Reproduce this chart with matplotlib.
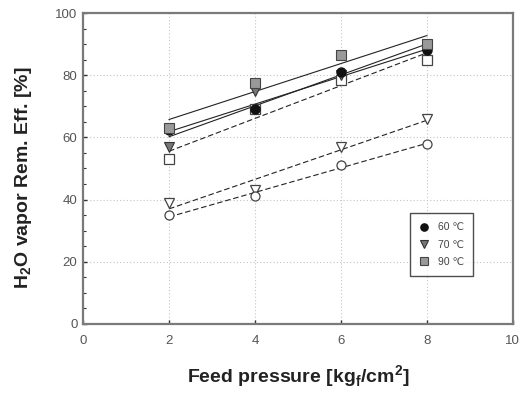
import numpy as np
import matplotlib
matplotlib.use("Agg")
import matplotlib.pyplot as plt

plt.rcParams["font.family"] = ["Liberation Sans", "DejaVu Sans"]

pressure = [2, 4, 6, 8]

# filled markers, solid fit lines (legend entries)
eff_60 = [62.5, 69, 81, 88]
eff_70 = [57, 75, 80, 88.5]
eff_90 = [63, 77.5, 86.5, 90]

# open markers, dashed fit lines
eff_open_sq = [53, 69, 78.5, 85]
eff_open_tri = [39, 43, 57, 66]
eff_open_cir = [35, 41, 51, 58]

legend_labels = ["60 \u2103", "70 \u2103", "90 \u2103"]

fig = plt.figure(figsize=(5.26, 3.95), dpi=100)
ax = fig.add_axes([0.158, 0.180, 0.817, 0.787])

axis_gray = "#7a7a7a"
xs = np.array(pressure)


def fit_line(ys, ls):
    k, b = np.polyfit(xs, ys, 1)
    ax.plot(xs, k * xs + b, color="#222222", lw=0.8, ls=ls, zorder=2)


# dashed fits (open symbols)
for ys in (eff_open_sq, eff_open_tri, eff_open_cir):
    fit_line(ys, (0, (5, 2.5)))
# solid fits (filled symbols)
for ys in (eff_60, eff_70, eff_90):
    fit_line(ys, "-")

ms = 6.5
ax.plot(xs, eff_open_sq, ls="none", marker="s", ms=ms, mfc="white", mec="#444444", mew=0.9, zorder=3)
ax.plot(xs, eff_open_tri, ls="none", marker="v", ms=ms, mfc="white", mec="#444444", mew=0.9, zorder=3)
ax.plot(xs, eff_open_cir, ls="none", marker="o", ms=ms, mfc="white", mec="#444444", mew=0.9, zorder=3)

h70, = ax.plot(xs, eff_70, ls="none", marker="v", ms=ms, mfc="#777777", mec="#333333", mew=0.8, zorder=4, label=legend_labels[1])
h60, = ax.plot(xs, eff_60, ls="none", marker="o", ms=ms, mfc="#111111", mec="#111111", zorder=4.5, label=legend_labels[0])
h90, = ax.plot(xs, eff_90, ls="none", marker="s", ms=ms, mfc="#999999", mec="#444444", mew=0.8, zorder=5, label=legend_labels[2])

ax.set_xlim(0, 10)
ax.set_ylim(0, 100)
ax.set_xticks(range(0, 11, 2))
ax.set_yticks(range(0, 101, 20))
ax.set_yticks(range(0, 101, 5), minor=True)

ax.grid(True, which="major", ls=(0, (1, 2)), color="#c4c4c4", lw=0.8)
ax.tick_params(axis="both", which="both", direction="in", color="#333333", labelcolor="#555555", labelsize=9.5)
ax.tick_params(axis="both", which="major", length=3, width=1)
ax.tick_params(axis="y", which="minor", length=2.5, width=0.8)
ax.tick_params(axis="x", pad=8)
ax.tick_params(axis="y", pad=4)
for s in ax.spines.values():
    s.set_color(axis_gray)
    s.set_linewidth(1.6)

ax.set_xlabel("Feed pressure [kg$_\\mathregular{f}$/cm$^\\mathregular{2}$]", fontsize=14, fontweight="bold", color="#222222", labelpad=12)
ax.set_ylabel("H$_\\mathregular{2}$O vapor Rem. Eff. [%]", fontsize=14, fontweight="bold", color="#222222", labelpad=10)
ax.yaxis.set_label_coords(-0.115, 0.47)

leg = ax.legend(handles=[h60, h70, h90], loc="upper left", bbox_to_anchor=(0.76, 0.357), borderaxespad=0,
                fontsize=7.5, frameon=True, fancybox=False, borderpad=0.9, labelspacing=0.7,
                handlelength=1.0, handletextpad=0.8, markerscale=0.8)
leg.get_frame().set_edgecolor("#222222")
leg.get_frame().set_linewidth(1.0)
for t in leg.get_texts():
    t.set_color("#444444")

fig.savefig("out.png", dpi=100)
